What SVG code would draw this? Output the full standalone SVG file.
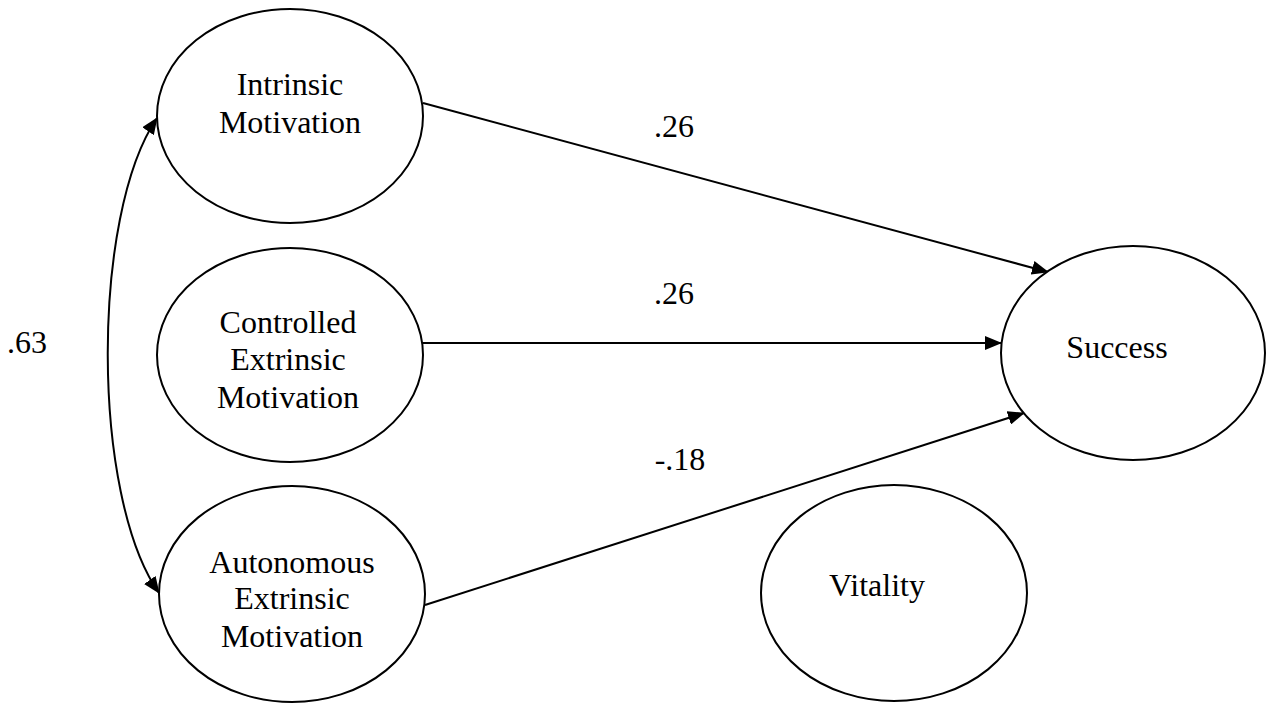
<svg xmlns="http://www.w3.org/2000/svg" width="1270" height="705" viewBox="0 0 1270 705">
<style>
.node ellipse{fill:#fff;stroke:#000;stroke-width:2}
text{font-family:"Liberation Serif","Times New Roman",serif;font-size:32px;fill:#000;text-anchor:middle}
.edge{stroke:#000;stroke-width:2;fill:none}
</style>
<defs>
<marker id="arr" markerUnits="userSpaceOnUse" markerWidth="17" markerHeight="14" refX="16" refY="7" orient="auto-start-reverse" viewBox="0 0 17 14">
<path d="M0,0 L17,7 L0,14 Z" fill="#000"/>
</marker>
</defs>
<rect width="1270" height="705" fill="#fff"/>
<g id="connectors">
<line class="edge" x1="423" y1="103" x2="1048" y2="272" marker-end="url(#arr)"/>
<line class="edge" x1="423" y1="343" x2="1001" y2="343" marker-end="url(#arr)"/>
<line class="edge" x1="425" y1="605" x2="1024" y2="413" marker-end="url(#arr)"/>
<path class="edge" d="M157,118 C91,215 91,496 159,593" marker-start="url(#arr)" marker-end="url(#arr)"/>
</g>
<g id="labels">
<text x="674" y="137">.26</text>
<text x="674" y="304">.26</text>
<text x="680" y="470">-.18</text>
<text x="27" y="353">.63</text>
</g>
<g id="intrinsic" class="node">
<ellipse cx="290" cy="116" rx="133" ry="107"/>
<text x="290" y="95">Intrinsic</text>
<text x="290" y="133">Motivation</text>
</g>
<g id="controlled" class="node">
<ellipse cx="290" cy="355" rx="133" ry="107"/>
<text x="288" y="333">Controlled</text>
<text x="288" y="370">Extrinsic</text>
<text x="288" y="408">Motivation</text>
</g>
<g id="autonomous" class="node">
<ellipse cx="292" cy="594" rx="133" ry="108"/>
<text x="292" y="573">Autonomous</text>
<text x="292" y="609">Extrinsic</text>
<text x="292" y="647">Motivation</text>
</g>
<g id="success" class="node">
<ellipse cx="1133" cy="353" rx="132" ry="107"/>
<text x="1117" y="358">Success</text>
</g>
<g id="vitality" class="node">
<ellipse cx="894" cy="593" rx="133" ry="108"/>
<text x="877" y="596">Vitality</text>
</g>
</svg>
